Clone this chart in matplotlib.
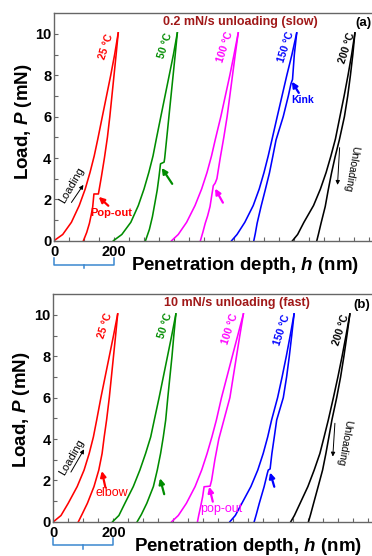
import matplotlib.pyplot as plt
import matplotlib.transforms as mtransforms
import numpy as np

plt.rcParams['font.family'] = ['Liberation Sans', 'DejaVu Sans']
plt.rcParams['mathtext.fontset'] = 'custom'
plt.rcParams['mathtext.rm'] = 'Liberation Sans:bold'
plt.rcParams['mathtext.it'] = 'Liberation Sans:italic:bold'

temps = ['25 °C', '50 °C', '100 °C', '150 °C', '200 °C']
colors = ['#ff0000', '#008c00', '#ff00ff', '#0000ff', '#000000']

# loading branch: load levels shared by all curves (mN)
p_load = [0, 0.3, 0.89, 1.7, 2.5, 3.3, 4.1, 4.92, 6, 7, 8, 9, 10.05]

# (a) 0.2 mN/s unloading, depths in nm
h_load_a = [
    [0, 29, 58, 84, 104, 120, 134, 146, 161, 175, 189, 202, 214],
    [198, 226, 256, 281, 300, 316, 330, 341, 356, 370, 384, 398, 411],
    [392, 414, 442, 470, 492, 510, 525, 538, 556, 571, 586, 600, 614],
    [592, 610, 636, 664, 684, 700, 714, 727, 744, 760, 776, 793, 809],
    [795, 812, 833, 865, 888, 907, 923, 938, 953, 967, 980, 992, 1003],
]
h_unl_a = [
    [214, 207, 200, 193, 186, 178, 168, 158, 148, 133, 129, 124, 118, 109, 98],
    [411, 404, 397, 390, 383, 376, 369, 367, 355, 350, 344, 336, 328, 318, 305],
    [614, 604, 595, 586, 577, 566, 554, 543, 537, 531, 527, 520, 512, 504, 496, 488],
    [809, 801, 795, 790, 781, 764, 740, 729, 718, 704, 690, 677, 671, 666],
    [1003, 996, 988, 979, 968, 951, 937, 925, 914, 904, 890, 882, 876],
]
p_unl_a = [
    [10.05, 9, 8, 7, 6, 5, 4, 3.1, 2.26, 2.26, 1.64, 1.25, 0.84, 0.4, 0],
    [10.05, 9, 8, 7, 6, 5, 4, 3.8, 3.72, 3.1, 2.45, 1.8, 1.16, 0.55, 0],
    [10.05, 9, 8, 7, 6, 5, 4, 3, 2.78, 2.66, 2.3, 1.65, 1.2, 0.84, 0.4, 0],
    [10.05, 9, 7.8, 7.6, 7, 6, 4.87, 4.06, 3.27, 2.45, 1.65, 0.84, 0.35, 0],
    [10.05, 9, 8, 7, 6, 4.87, 4.06, 3.27, 2.45, 1.65, 0.84, 0.35, 0],
]

# (b) 10 mN/s unloading
h_load_b = [
    [0, 25, 49, 79, 102, 119, 133, 144, 158, 172, 186, 200, 214],
    [197, 218, 238, 266, 288, 307, 324, 336, 352, 366, 380, 394, 408],
    [394, 416, 443, 472, 494, 512, 528, 543, 560, 578, 596, 614, 633],
    [588, 606, 628, 658, 681, 699, 714, 727, 747, 762, 776, 789, 802],
    [791, 803, 822, 848, 869, 888, 902, 916, 933, 948, 962, 975, 988],
]
h_unl_b = [
    [214, 207, 200, 193, 186, 177, 169, 162, 151, 135, 113, 95, 83],
    [408, 401, 395, 388, 381, 374, 366, 357, 346, 333, 311, 293, 279],
    [633, 621, 610, 599, 588, 568, 551, 538, 527, 522, 502, 497, 490, 484, 480],
    [802, 794, 786, 777, 766, 744, 736, 728, 722, 716, 713, 702, 686, 676, 669],
    [988, 978, 968, 957, 944, 928, 918, 908, 897, 882, 867, 857, 850],
]
p_unl_b = [
    [10.05, 9, 8, 7, 6, 4.92, 4.1, 3.3, 2.5, 1.7, 0.89, 0.35, 0],
    [10.05, 9, 8, 7, 6, 4.92, 4.1, 3.3, 2.5, 1.7, 0.89, 0.35, 0],
    [10.05, 9, 8, 7, 6, 4.92, 4, 3, 2, 1.72, 1.69, 1.2, 0.7, 0.3, 0],
    [10.05, 9, 8, 7, 6, 4.92, 4.1, 3.3, 2.55, 2.5, 2.35, 1.69, 0.89, 0.35, 0],
    [10.05, 9, 8, 7, 6, 4.92, 4.1, 3.3, 2.5, 1.69, 0.89, 0.35, 0],
]

xtick_vals = np.arange(0, 1101, 50)
xtick_labels = ['0', '', '', '', '200'] + [''] * 18

title_red = '#a01818'
brace_col = '#3a87d0'
axis_col = '#666666'


def setup_axes(ax):
    ax.set_xlim(0, 1100)
    ax.set_ylim(0, 11)
    ax.set_xticks(xtick_vals)
    ax.set_xticklabels(xtick_labels)
    ax.set_yticks(np.arange(0, 11, 2))
    ax.set_yticks(np.arange(1, 11, 2), minor=True)
    ax.tick_params(which='both', direction='in', length=3, width=0.8,
                   color=axis_col, labelsize=10.5, pad=2)
    ax.tick_params(axis='x', pad=3)
    for lab in ax.get_xticklabels() + ax.get_yticklabels():
        lab.set_fontweight('bold')
    for s in ax.spines.values():
        s.set_color(axis_col)
        s.set_linewidth(1.0)


def draw_curves(ax, h_load, h_unl, p_unl):
    for i in range(len(temps)):
        ax.plot(h_load[i], p_load, color=colors[i], lw=1.15, solid_joinstyle='round')
        ax.plot(h_unl[i], p_unl[i], color=colors[i], lw=1.15, solid_joinstyle='round')


def temp_labels(ax, pos, size):
    for i, (x, y) in enumerate(pos):
        ax.text(x, y, temps[i], color=colors[i], fontsize=size, fontweight='bold',
                rotation=72, ha='center', va='center')


def brace(ax, y_top, y_mid, y_tip):
    tr = mtransforms.blended_transform_factory(ax.transData, ax.transAxes)
    x0, x1 = xtick_vals[0], xtick_vals[4]
    ax.plot([x0, x0, x1, x1], [y_top, y_mid, y_mid, y_top], color=brace_col,
            lw=1.1, transform=tr, clip_on=False)
    ax.plot([(x0 + x1) / 2] * 2, [y_mid, y_tip], color=brace_col, lw=1.1,
            transform=tr, clip_on=False)


def arrow(ax, tail, head, color, thick=True):
    if thick:
        props = dict(arrowstyle='-|>', color=color, lw=1.6, mutation_scale=8,
                     shrinkA=0, shrinkB=0)
    else:
        props = dict(arrowstyle='-|>', color=color, lw=0.7, mutation_scale=6,
                     shrinkA=0, shrinkB=0)
    ax.annotate('', xy=head, xytext=tail, arrowprops=props)


fig = plt.figure(figsize=(3.72, 5.56), dpi=100)
ax_a = fig.add_axes([0.1452, 0.5671, 0.8871, 0.4090])
ax_b = fig.add_axes([0.1438, 0.0617, 0.8871, 0.4090])

for ax in (ax_a, ax_b):
    setup_axes(ax)

# ---- panel (a)
draw_curves(ax_a, h_load_a, h_unl_a, p_unl_a)
temp_labels(ax_a, [(175, 9.4), (372, 9.45), (571, 9.37), (772, 9.37), (976, 9.3)], 7.5)
ax_a.text(0.564, 0.963, '0.2 mN/s unloading (slow)', transform=ax_a.transAxes,
          color=title_red, fontsize=9, fontweight='bold', ha='center', va='center')
ax_a.text(0.912, 0.957, '(a)', transform=ax_a.transAxes, fontsize=9.5,
          fontweight='bold', ha='left', va='center')
ax_a.text(59, 2.7, 'Loading', rotation=60, fontsize=8, ha='center', va='center')
arrow(ax_a, (58, 1.85), (98, 2.7), 'black', thick=False)
ax_a.text(192, 1.35, 'Pop-out', color='#ff0000', fontsize=8, fontweight='bold',
          ha='center', va='center')
arrow(ax_a, (181, 1.69), (149, 2.12), '#ff0000')
arrow(ax_a, (394, 2.75), (359, 3.52), colors[1])
arrow(ax_a, (563, 1.84), (537, 2.52), colors[2])
ax_a.text(830, 6.8, 'Kink', color='#0000ff', fontsize=7.5, fontweight='bold',
          ha='center', va='center')
arrow(ax_a, (816, 7.15), (793, 7.69), '#0000ff')
ax_a.text(990, 3.5, 'Unloading', rotation=-100, fontsize=7.5, ha='center', va='center')
arrow(ax_a, (952, 4.5), (945, 2.7), 'black', thick=False)
brace(ax_a, -0.076, -0.107, -0.120)

# ---- panel (b)
draw_curves(ax_b, h_load_b, h_unl_b, p_unl_b)
temp_labels(ax_b, [(173, 9.5), (371, 9.5), (589, 9.3), (761, 9.27), (957, 9.26)], 7.5)
ax_b.text(0.556, 0.960, '10 mN/s unloading (fast)', transform=ax_b.transAxes,
          color=title_red, fontsize=9, fontweight='bold', ha='center', va='center')
ax_b.text(0.908, 0.953, '(b)', transform=ax_b.transAxes, fontsize=9.5,
          fontweight='bold', ha='left', va='center')
ax_b.text(62, 3.12, 'Loading', rotation=60, fontsize=8, ha='center', va='center')
arrow(ax_b, (58, 2.4), (102, 3.5), 'black', thick=False)
ax_b.text(193, 1.39, 'elbow', color='#ff0000', fontsize=9, ha='center', va='center')
arrow(ax_b, (173, 1.66), (161, 2.45), '#ff0000')
arrow(ax_b, (369, 1.33), (355, 2.1), colors[1])
ax_b.text(558, 0.62, 'pop-out', color='#ff00ff', fontsize=9, ha='center', va='center')
arrow(ax_b, (531, 0.97), (519, 1.69), '#ff00ff')
arrow(ax_b, (736, 1.69), (722, 2.38), '#0000ff')
ax_b.text(968, 3.8, 'Unloading', rotation=-100, fontsize=7.5, ha='center', va='center')
arrow(ax_b, (938, 4.76), (931, 3.15), 'black', thick=False)
brace(ax_b, -0.073, -0.102, -0.121)

# axis titles
for yx, yy, xx, xy in [(0.062, 0.781, 0.659, 0.523), (0.058, 0.263, 0.667, 0.017)]:
    fig.text(yx, yy, 'Load, $P$ (mN)', rotation=90, fontsize=13.5,
             fontweight='bold', ha='center', va='center')
    fig.text(xx, xy, 'Penetration depth, $h$ (nm)', fontsize=13.5,
             fontweight='bold', ha='center', va='center')

fig.savefig('out.png', dpi=100)
